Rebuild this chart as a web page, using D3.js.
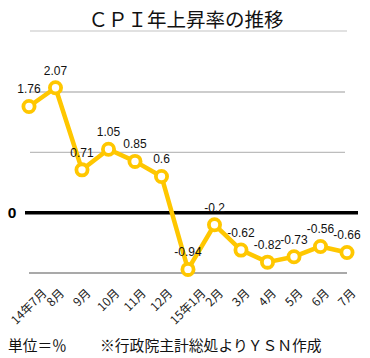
<!DOCTYPE html>
<html>
<head>
<meta charset="utf-8">
<script src="https://cdn.jsdelivr.net/npm/d3@7"></script>
<style>
html,body{margin:0;padding:0;background:#fff;}
svg{display:block;}
text{font-family:"Liberation Sans",Arial,"Noto Sans CJK JP",sans-serif;}
.jp{font-family:"Noto Sans CJK JP","Liberation Sans",sans-serif;}
</style>
</head>
<body>
<script>
const months = ["14年7月","8月","9月","10月","11月","12月","15年1月","2月","3月","4月","5月","6月","7月"];
const values = [1.76,2.07,0.71,1.05,0.85,0.6,-0.94,-0.2,-0.62,-0.82,-0.73,-0.56,-0.66];
const gridTicks = [1,2];
const title = "ＣＰＩ年上昇率の推移";
const unitNote = "単位＝％";
const sourceNote = "※行政院主計総処よりＹＳＮ作成";

const W = 370, H = 358;
const svg = d3.select("body").append("svg").attr("width", W).attr("height", H);

const x = d3.scalePoint().domain(months).range([29, 347]);
const y = d3.scaleLinear().domain([-1, 2]).range([273, 92]);

// title
svg.append("text").attr("class","jp").attr("x",186).attr("y",27)
  .attr("text-anchor","middle").attr("font-size",19.5).attr("fill","#111").text(title);
svg.append("line").attr("x1",30).attr("x2",347).attr("y1",31).attr("y2",31)
  .attr("stroke","#c4c4c4").attr("stroke-width",1.2);

// grid
svg.selectAll(".grid").data(gridTicks).enter().append("line")
  .attr("x1",30).attr("x2",345).attr("y1",d=>y(d)).attr("y2",d=>y(d))
  .attr("stroke","#bdbdbd").attr("stroke-width",1.3);
svg.append("line").attr("x1",29).attr("x2",347).attr("y1",y(-1)).attr("y2",y(-1))
  .attr("stroke","#555").attr("stroke-width",1.2);
svg.append("line").attr("x1",25).attr("x2",358).attr("y1",y(0)).attr("y2",y(0))
  .attr("stroke","#000").attr("stroke-width",3.5);
svg.append("text").attr("x",12).attr("y",y(0)+5.5).attr("text-anchor","middle")
  .attr("font-size",15.5).attr("font-weight","bold").text("0");

// line
const line = d3.line().x((d,i)=>x(months[i])).y(d=>y(d));
const col = "#FFC700";
svg.append("path").datum(values).attr("d",line).attr("fill","none")
  .attr("stroke",col).attr("stroke-width",4.5).attr("stroke-linejoin","round");
svg.selectAll(".pt").data(values).enter().append("circle")
  .attr("cx",(d,i)=>x(months[i])).attr("cy",d=>y(d)).attr("r",5.6)
  .attr("fill","#fff").attr("stroke",col).attr("stroke-width",3.8);

// value labels
svg.selectAll(".lbl").data(values).enter().append("text")
  .attr("x",(d,i)=>x(months[i])).attr("y",d=>y(d)-13)
  .attr("text-anchor","middle").attr("font-size",12).attr("fill","#111")
  .text(d=>String(d));

// x labels: rotated -45deg, bounding box centered on tick, top aligned
const labelFs = 12, labelTop = 286;
svg.selectAll(".xl").data(months).enter().append("text").attr("class","jp")
  .attr("text-anchor","middle").attr("dominant-baseline","central")
  .attr("font-size",labelFs).attr("fill","#222")
  .text(d=>d)
  .each(function(d){
    const w = this.getComputedTextLength();
    const half = (w + labelFs) / (2*Math.SQRT2);
    const cx = x(d) - 1, cy = labelTop + half;
    d3.select(this).attr("x",0).attr("y",0)
      .attr("transform",`translate(${cx},${cy}) rotate(-45)`);
  });

// footer
svg.append("text").attr("class","jp").attr("x",8).attr("y",351).attr("font-size",14.7).attr("fill","#111").text(unitNote);
svg.append("text").attr("class","jp").attr("x",100).attr("y",351).attr("font-size",14.8).attr("fill","#111").text(sourceNote);
</script>
</body>
</html>
